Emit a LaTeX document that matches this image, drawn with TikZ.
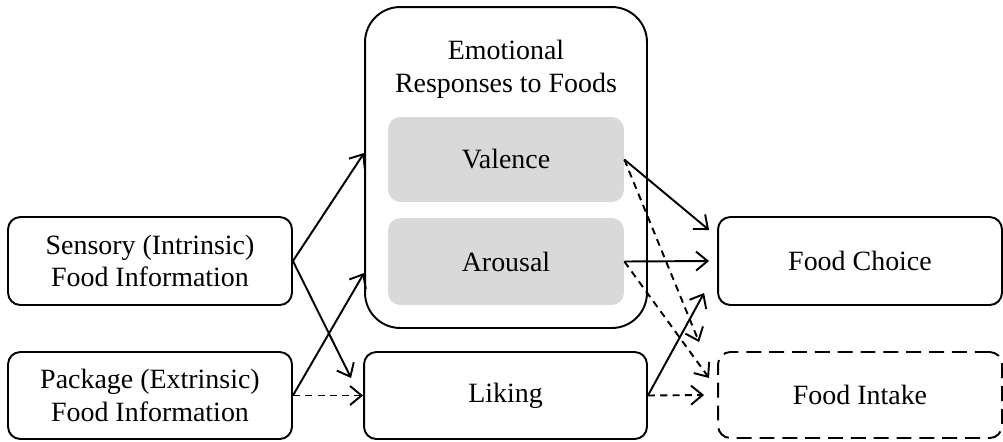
\documentclass[tikz,border=0pt]{standalone}
\usepackage{fontspec}
\setmainfont{Liberation Serif}
\usetikzlibrary{arrows.meta}
\definecolor{boxgray}{HTML}{D9D9D9}

\begin{document}
\begin{tikzpicture}[x=0.02cm,y=-0.02cm,
  font=\fontsize{15.9}{18.7}\selectfont,
  box/.style={draw=black,line width=1.1pt,rounded corners=7pt,align=center,inner sep=0pt},
  inner/.style={fill=boxgray,rounded corners=7pt,inner sep=0pt},
  link/.style={line width=1.1pt,-{Straight Barb[length=2.3mm,width=3.8mm]}},
  dashlink/.style={link,dash pattern=on 4pt off 3pt}]
\useasboundingbox (0,0) rectangle (1003,441);
% left column
\node[box,minimum width=5.68cm,minimum height=1.76cm] (sensory) at (150,261) {Sensory (Intrinsic)\\Food Information};
\node[box,minimum width=5.68cm,minimum height=1.74cm] (package) at (150,395.5) {Package (Extrinsic)\\Food Information};
% middle column
\node[box,rounded corners=20pt,minimum width=5.64cm,minimum height=6.42cm] (emo) at (506,167.5) {};
\node[align=center] (emotitle) at (506,69) {Emotional\\Responses to Foods};
\node[inner,minimum width=4.72cm,minimum height=1.7cm] (valence) at (506,159.5) {Valence};
\node[inner,minimum width=4.72cm,minimum height=1.74cm] (arousal) at (506,261.5) {Arousal};
\node[box,minimum width=5.66cm,minimum height=1.74cm] (liking) at (505.5,395.5) {Liking};
% right column
\node[box,minimum width=5.68cm,minimum height=1.76cm] (choice) at (860,261) {Food Choice};
\node[box,dash pattern=on 8.5pt off 4.5pt,minimum width=5.68cm,minimum height=1.72cm] (intake) at (860,395) {Food Intake};

\draw[link] (sensory.east) -- ([yshift=0.29cm]emo.west);
\draw[link] (sensory.east) -- ([xshift=-0.24cm,yshift=0.35cm]liking.west);
\draw[link] (package.east) -- ([yshift=-2.11cm]emo.west);
\draw[dashlink] (package.east) -- (liking.west);

\draw[link] (valence.east) -- ([xshift=-0.16cm,yshift=0.62cm]choice.west);
\draw[dashlink] (valence.east) -- ([xshift=-0.36cm,yshift=0.18cm]intake.north west);
\draw[link] (arousal.east) -- ([xshift=-0.16cm]choice.west);
\draw[dashlink] (arousal.east) -- ([xshift=-0.16cm,yshift=0.34cm]intake.west);
\draw[link] (liking.east) -- ([xshift=-0.26cm,yshift=0.26cm]choice.south west);
\draw[dashlink] (liking.east) -- ([xshift=-0.26cm]intake.west);
\end{tikzpicture}
\end{document}
